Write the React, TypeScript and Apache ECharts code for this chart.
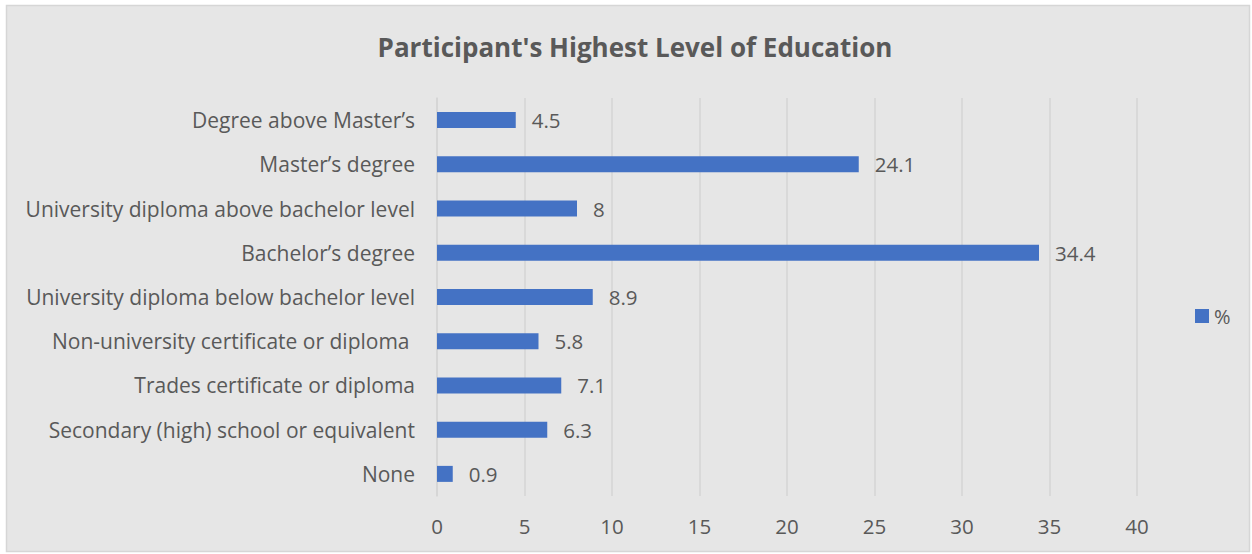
import React, { useEffect, useRef } from "react";
import * as echarts from "echarts";

const categories = [
  "None",
  "Secondary (high) school or equivalent",
  "Trades certificate or diploma",
  "Non-university certificate or diploma ",
  "University diploma below bachelor level",
  "Bachelor’s degree",
  "University diploma above bachelor level",
  "Master’s degree",
  "Degree above Master’s",
];
const values = [0.9, 6.3, 7.1, 5.8, 8.9, 34.4, 8, 24.1, 4.5];
const seriesName = "%";
const titleText = "Participant's Highest Level of Education";

const FONT = "'Open Sans', sans-serif";
const TEXT = "#595959";

export default function App() {
  const ref = useRef<HTMLDivElement>(null);
  useEffect(() => {
    document.body.style.margin = "0";
    const chart = echarts.init(ref.current!, undefined, { renderer: "svg" });
    chart.setOption({
      animation: false,
      backgroundColor: "#ffffff",
      graphic: [
        {
          type: "rect",
          shape: { x: 6.5, y: 5.5, width: 1243, height: 546 },
          style: { fill: "#e6e6e6", stroke: "#d6d6d6", lineWidth: 1.5 },
          z: -10,
          silent: true,
        },
      ],
      title: {
        text: titleText,
        left: 630,
        textAlign: "center",
        top: 29,
        textStyle: { fontFamily: FONT, fontSize: 26, fontWeight: "bold", color: TEXT },
      },
      legend: {
        data: [seriesName],
        left: 1190,
        top: 301,
        itemWidth: 14,
        itemHeight: 14,
        itemGap: 6,
        icon: "rect",
        textStyle: { fontFamily: FONT, fontSize: 20, color: TEXT },
      },
      grid: { left: 437, top: 98, width: 700, height: 398, containLabel: false },
      xAxis: {
        type: "value",
        min: 0,
        max: 40,
        interval: 5,
        axisLine: { show: false },
        axisTick: { show: false },
        axisLabel: { fontFamily: FONT, fontSize: 20.5, color: TEXT, margin: 19 },
        splitLine: { show: true, lineStyle: { color: "#d4d4d4", width: 1.5 } },
      },
      yAxis: {
        type: "category",
        data: categories,
        axisLine: { show: true, lineStyle: { color: "#d4d4d4", width: 1.5 } },
        axisTick: { show: false },
        axisLabel: { fontFamily: FONT, fontSize: 21, color: TEXT, margin: 22 },
      },
      series: [
        {
          name: seriesName,
          type: "bar",
          data: values,
          barWidth: 16,
          itemStyle: { color: "#4472c4" },
          label: {
            show: true,
            position: "right",
            distance: 16,
            fontFamily: FONT,
            fontSize: 20.5,
            color: TEXT,
          },
        },
      ],
    });
    return () => chart.dispose();
  }, []);
  return <div ref={ref} style={{ width: 1252, height: 554 }} />;
}
